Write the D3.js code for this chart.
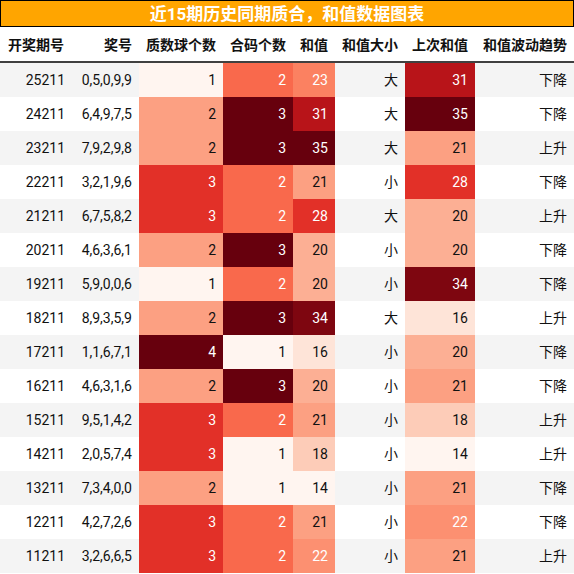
<!DOCTYPE html><html><head><meta charset="utf-8"><script src="https://cdn.jsdelivr.net/npm/d3@7"></script>
<style>body{margin:0;background:#fff}</style></head><body><svg id="c" width="574" height="574"></svg>
<script>
const title="近15期历史同期质合，和值数据图表";
const headers=["开奖期号","奖号","质数球个数","合码个数","和值","和值大小","上次和值","和值波动趋势"];
const periods=["25211","24211","23211","22211","21211","20211","19211","18211","17211","16211","15211","14211","13211","12211","11211"];
const numbers=["0,5,0,9,9","6,4,9,7,5","7,9,2,9,8","3,2,1,9,6","6,7,5,8,2","4,6,3,6,1","5,9,0,0,6","8,9,3,5,9","1,1,6,7,1","4,6,3,1,6","9,5,1,4,2","2,0,5,7,4","7,3,4,0,0","4,2,7,2,6","3,2,6,6,5"];
const primes=[1,2,2,3,3,2,1,2,4,2,3,3,2,3,3];
const composites=[2,3,3,2,2,3,2,3,1,3,2,1,1,2,2];
const sums=[23,31,35,21,28,20,20,34,16,20,21,18,14,21,22];
const sizes=["大","大","大","小","大","小","小","大","小","小","小","小","小","小","小"];
const prevSums=[31,35,21,28,20,20,34,16,20,21,18,14,21,22,21];
const trends=["下降","下降","上升","下降","上升","下降","下降","上升","下降","下降","上升","上升","下降","下降","上升"];

const svg=d3.select("#c");
const W=574, font="Roboto, 'Noto Sans CJK SC', sans-serif";
svg.append("rect").attr("x",0.5).attr("y",0.5).attr("width",W-1).attr("height",26).attr("fill","#FFA500").attr("stroke","#000");
svg.append("text").attr("x",W/2).attr("y",20).attr("text-anchor","middle").attr("fill","#fff").attr("font-weight","bold").attr("font-size",17).attr("font-family",font).text(title);
const edges=[0,72,139,223,293,335,405,475,574];
const headY=27, headH=35, rowH=34, tableTop=63;
const y=d3.scaleBand().domain(d3.range(15)).range([tableTop,tableTop+rowH*15]);
headers.forEach((h,i)=>{
  svg.append("text").attr("x",i==0?8:edges[i+1]-7).attr("y",headY+headH/2+5).attr("text-anchor",i==0?"start":"end")
   .attr("font-weight","bold").attr("font-size",14).attr("font-family",font).attr("fill","#111").text(h);
});
const cols=[periods,numbers,primes,composites,sums,sizes,prevSums,trends];
const colorCols={2:d3.extent(primes),3:d3.extent(composites),4:d3.extent(sums.concat(prevSums)),6:d3.extent(sums.concat(prevSums))};
d3.range(15).forEach(r=>{
  svg.append("rect").attr("x",0).attr("y",y(r)).attr("width",W).attr("height",rowH).attr("fill",r%2==0?"#f4f4f4":"#fff");
  cols.forEach((col,c)=>{
    let tc="#111";
    if(colorCols[c]){
      const s=d3.scaleLinear().domain(colorCols[c]).range([0,1]);
      const t=s(col[r]);
      svg.append("rect").attr("x",edges[c]).attr("y",y(r)).attr("width",edges[c+1]-edges[c]).attr("height",rowH).attr("fill",d3.interpolateReds(t));
      if(t>0.36) tc="#fff";
    }
    svg.append("text").attr("x",edges[c+1]-7).attr("y",y(r)+rowH/2+5).attr("text-anchor","end")
      .attr("font-size",14).attr("font-family",font).attr("fill",tc).text(col[r]);
  });
});
svg.append("line").attr("x1",0).attr("x2",W).attr("y1",62).attr("y2",62).attr("stroke","#000").attr("stroke-width",1.5);
</script></body></html>
